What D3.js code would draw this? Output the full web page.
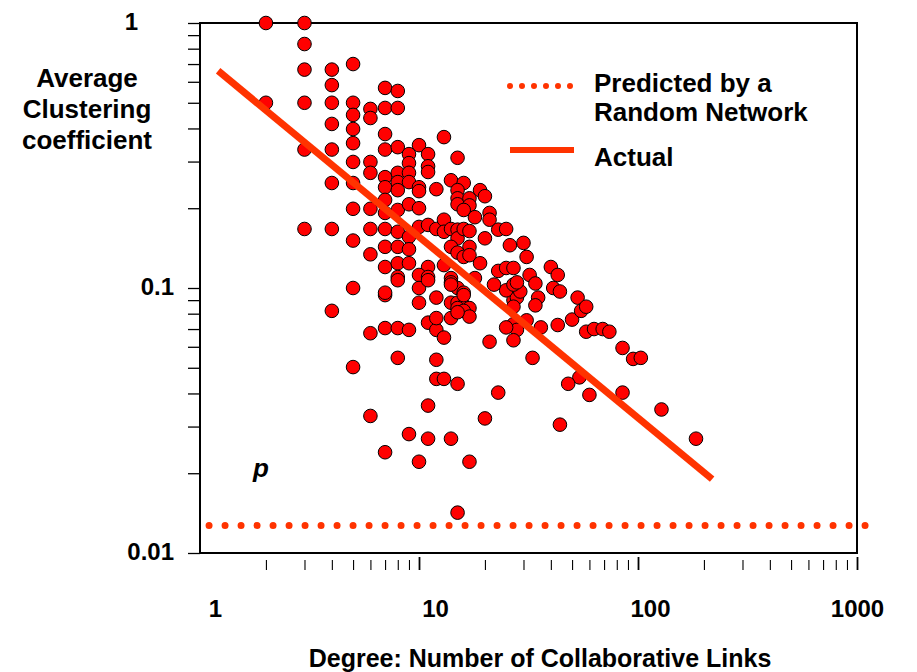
<!DOCTYPE html>
<html>
<head>
<meta charset="utf-8">
<script src="https://cdn.jsdelivr.net/npm/d3@7/dist/d3.min.js"></script>
<style>
  html, body { margin: 0; padding: 0; background: #fff; }
  svg { display: block; }
  text { font-family: "Liberation Sans", Arial, Helvetica, sans-serif; font-weight: bold; fill: #000; }
</style>
</head>
<body>
<svg id="chart" width="917" height="672"></svg>
<script>
// Degree (number of collaborative links) of each node group
const degree = [
  2, 3, 3, 3, 4, 5, 4, 2, 3, 4, 5, 5, 6, 6, 7, 8, 7, 8, 4, 5,
  5, 3, 4, 7, 13, 7, 8, 10, 9, 11, 15, 5, 6, 9, 11, 11, 4, 5, 6, 7,
  8, 9, 7, 8, 8, 9, 10, 10, 12, 14, 16, 15, 15, 15, 17, 17, 19, 20, 5, 6,
  7, 7, 8, 9, 10, 16, 18, 21, 21, 3, 4, 6, 7, 8, 9, 10, 11, 12, 13, 13,
  14, 15, 15, 16, 17, 17, 20, 23, 25, 26, 30, 31, 5, 6, 7, 8, 9, 7, 8, 9,
  11, 13, 14, 15, 16, 17, 19, 23, 25, 27, 8, 10, 11, 14, 18,
  40, 43, 32, 34, 35, 34, 36, 41, 44, 43, 53, 50, 55, 58, 58, 63, 69, 74, 85, 95,
  103, 85, 60, 54, 48, 33, 23, 7, 8, 10, 10, 12, 14, 15, 16, 14, 15, 16, 17, 15,
  16, 14, 17, 11, 12, 13, 7, 8, 9, 21, 8, 12, 12, 13, 15, 27, 28, 27, 25, 31,
  27, 28, 27, 25, 29, 27, 28, 22,
  5, 4, 7, 11, 14, 16, 15, 6, 12, 5, 11, 6, 20, 9, 11, 14, 7, 10, 17, 15,
  44, 128, 184
];

// Average clustering coefficient for the same nodes
const clustering = [
  1, 1, 0.833, 0.667, 0.667, 0.7, 0.583, 0.5, 0.5, 0.5, 0.5, 0.45, 0.474, 0.438, 0.569, 0.554, 0.478, 0.478, 0.416, 0.398,
  0.352, 0.333, 0.333, 0.381, 0.371, 0.333, 0.34, 0.346, 0.32, 0.32, 0.31, 0.299, 0.299, 0.296, 0.288, 0.274, 0.249, 0.249, 0.272, 0.262,
  0.272, 0.272, 0.24, 0.251, 0.234, 0.251, 0.24, 0.232, 0.236, 0.255, 0.249, 0.234, 0.218, 0.207, 0.218, 0.205, 0.234, 0.222, 0.199, 0.199,
  0.215, 0.192, 0.197, 0.207, 0.2, 0.197, 0.185, 0.192, 0.181, 0.167, 0.167, 0.167, 0.167, 0.163, 0.156, 0.17, 0.173, 0.167, 0.181, 0.163,
  0.167, 0.166, 0.154, 0.167, 0.164, 0.143, 0.154, 0.166, 0.167, 0.145, 0.148, 0.131, 0.151, 0.134, 0.143, 0.143, 0.14, 0.12, 0.124, 0.124,
  0.12, 0.122, 0.143, 0.136, 0.131, 0.133, 0.124, 0.116, 0.119, 0.119, 0.11, 0.112, 0.11, 0.109, 0.109,
  0.12, 0.112, 0.112, 0.104, 0.092, 0.086, 0.071, 0.1, 0.097, 0.0725, 0.092, 0.076, 0.082, 0.085, 0.0684, 0.07, 0.07, 0.0684, 0.0594, 0.054,
  0.0545, 0.0403, 0.0395, 0.046, 0.0435, 0.0545, 0.0403, 0.094, 0.107, 0.1, 0.088, 0.092, 0.105, 0.1, 0.096, 0.088, 0.088, 0.086, 0.084, 0.084,
  0.082, 0.077, 0.078, 0.074, 0.0695, 0.065, 0.0706, 0.0706, 0.0695, 0.0627, 0.0545, 0.0536, 0.0454, 0.0454, 0.0435, 0.073, 0.0695, 0.0635, 0.071, 0.0755,
  0.09, 0.092, 0.085, 0.098, 0.097, 0.103, 0.105, 0.103,
  0.1, 0.082, 0.096, 0.107, 0.103, 0.094, 0.081, 0.0675, 0.077, 0.0503, 0.036, 0.0329, 0.0322, 0.0281, 0.027, 0.027, 0.024, 0.0221, 0.0221, 0.0142,
  0.0305, 0.0348, 0.027
];

// Fitted power-law trend ("Actual")
const actualDegree = [1.21, 218];
const actualClustering = [0.66, 0.019];

// Clustering expected in a random network of the same density (p)
const randomDegree = [1.1, 1090];
const randomClustering = [0.0127, 0.0127];

// Axis ticks and labels
const xTickValues = [1, 2, 3, 4, 5, 6, 7, 8, 9, 10, 20, 30, 40, 50, 60, 70, 80, 90, 100,
                     200, 300, 400, 500, 600, 700, 800, 900, 1000];
const xTickLabels = ["1", "10", "100", "1000"];
const yTickValues = [0.01, 0.02, 0.03, 0.04, 0.05, 0.06, 0.07, 0.08, 0.09, 0.1,
                     0.2, 0.3, 0.4, 0.5, 0.6, 0.7, 0.8, 0.9, 1];
const yTickLabels = ["0.01", "0.1", "1"];

const xTitle = "Degree: Number of Collaborative Links";
const yTitleLines = ["Average", "Clustering", "coefficient"];
const legendLabels = [["Predicted by a", "Random Network"], ["Actual"]];

const RED = "#ff0000";
const LINE = "#ff3300";

const svg = d3.select("#chart");

const x = d3.scaleLog().domain([1, 1000]).range([200, 857]);
const y = d3.scaleLog().domain([0.01, 1]).range([553, 23]);

const isDecade = v => Math.abs(Math.log10(v) - Math.round(Math.log10(v))) < 1e-9;
const decadeIndex = v => Math.round(Math.log10(v));

// Y axis: ticks pointing left, labels only on decades
const yAxis = d3.axisLeft(y)
  .tickValues(yTickValues)
  .tickSize(12)
  .tickPadding(14)
  .tickFormat(d => isDecade(d) ? yTickLabels[decadeIndex(d) + 2] : "");

const gy = svg.append("g").attr("transform", "translate(200,0)").call(yAxis);
gy.select(".domain").remove();
gy.selectAll(".tick line").attr("stroke", "#000").attr("stroke-width", 1.3);
gy.selectAll(".tick text")
  .attr("font-size", 24)
  .attr("dy", "0.25em")
  .attr("dx", d => d === 1 ? -36 : 0);

// X axis: ticks hang below the frame with a small gap
const xAxis = d3.axisBottom(x)
  .tickValues(xTickValues)
  .tickSize(13)
  .tickPadding(30)
  .tickFormat(d => isDecade(d) ? xTickLabels[decadeIndex(d)] : "");

const xLabelShift = [15, 16, 12, 0];
const gx = svg.append("g").attr("transform", "translate(0,557)").call(xAxis);
gx.select(".domain").remove();
gx.selectAll(".tick line")
  .attr("stroke", "#000")
  .attr("stroke-width", d => isDecade(d) ? 1.8 : 1.1)
  .attr("y1", d => isDecade(d) ? 0 : 3)
  .attr("opacity", d => d === 1 ? 0 : 1);
gx.selectAll(".tick text")
  .attr("font-size", 24)
  .attr("dx", d => isDecade(d) ? xLabelShift[decadeIndex(d)] : 0);

// Frame around the plotting area
svg.append("rect")
  .attr("x", x.range()[0])
  .attr("y", y.range()[1])
  .attr("width", x.range()[1] - x.range()[0])
  .attr("height", y.range()[0] - y.range()[1])
  .attr("fill", "none")
  .attr("stroke", "#000")
  .attr("stroke-width", 2);

// Random-network level (dotted)
const lineGen = d3.line().x(d => x(d[0])).y(d => y(d[1]));
svg.append("path")
  .datum(d3.zip(randomDegree, randomClustering))
  .attr("d", lineGen)
  .attr("fill", "none")
  .attr("stroke", LINE)
  .attr("stroke-width", 7)
  .attr("stroke-linecap", "round")
  .attr("stroke-dasharray", "0,16");

// Scatter of nodes
svg.append("g")
  .selectAll("circle")
  .data(d3.zip(degree, clustering))
  .join("circle")
  .attr("cx", d => x(d[0]))
  .attr("cy", d => y(d[1]))
  .attr("r", 6.8)
  .attr("fill", RED)
  .attr("stroke", "#000")
  .attr("stroke-width", 1);

// Power-law trend
svg.append("path")
  .datum(d3.zip(actualDegree, actualClustering))
  .attr("d", lineGen)
  .attr("fill", "none")
  .attr("stroke", LINE)
  .attr("stroke-width", 7);

// p marker next to the random-network level
svg.append("text")
  .attr("x", 253)
  .attr("y", 477)
  .attr("font-size", 26)
  .attr("font-style", "italic")
  .text("p");

// Legend
const legend = svg.append("g");
legend.append("line")
  .attr("x1", 510).attr("x2", 571).attr("y1", 86).attr("y2", 86)
  .attr("stroke", LINE)
  .attr("stroke-width", 6)
  .attr("stroke-linecap", "round")
  .attr("stroke-dasharray", "0,12");
legend.append("line")
  .attr("x1", 510).attr("x2", 574).attr("y1", 150).attr("y2", 150)
  .attr("stroke", LINE)
  .attr("stroke-width", 6);
legend.append("text")
  .attr("x", 594).attr("y", 92)
  .attr("font-size", 26)
  .selectAll("tspan")
  .data(legendLabels[0])
  .join("tspan")
  .attr("x", 594)
  .attr("dy", (d, i) => i === 0 ? 0 : 29)
  .text(d => d);
legend.append("text")
  .attr("x", 594).attr("y", 166)
  .attr("font-size", 26)
  .text(legendLabels[1][0]);

// Axis titles
svg.append("text")
  .attr("x", 87)
  .attr("y", 87)
  .attr("font-size", 26)
  .attr("text-anchor", "middle")
  .selectAll("tspan")
  .data(yTitleLines)
  .join("tspan")
  .attr("x", 87)
  .attr("dy", (d, i) => i === 0 ? 0 : 31)
  .text(d => d);

svg.append("text")
  .attr("x", 540)
  .attr("y", 667)
  .attr("font-size", 25)
  .attr("text-anchor", "middle")
  .text(xTitle);
</script>
</body>
</html>
